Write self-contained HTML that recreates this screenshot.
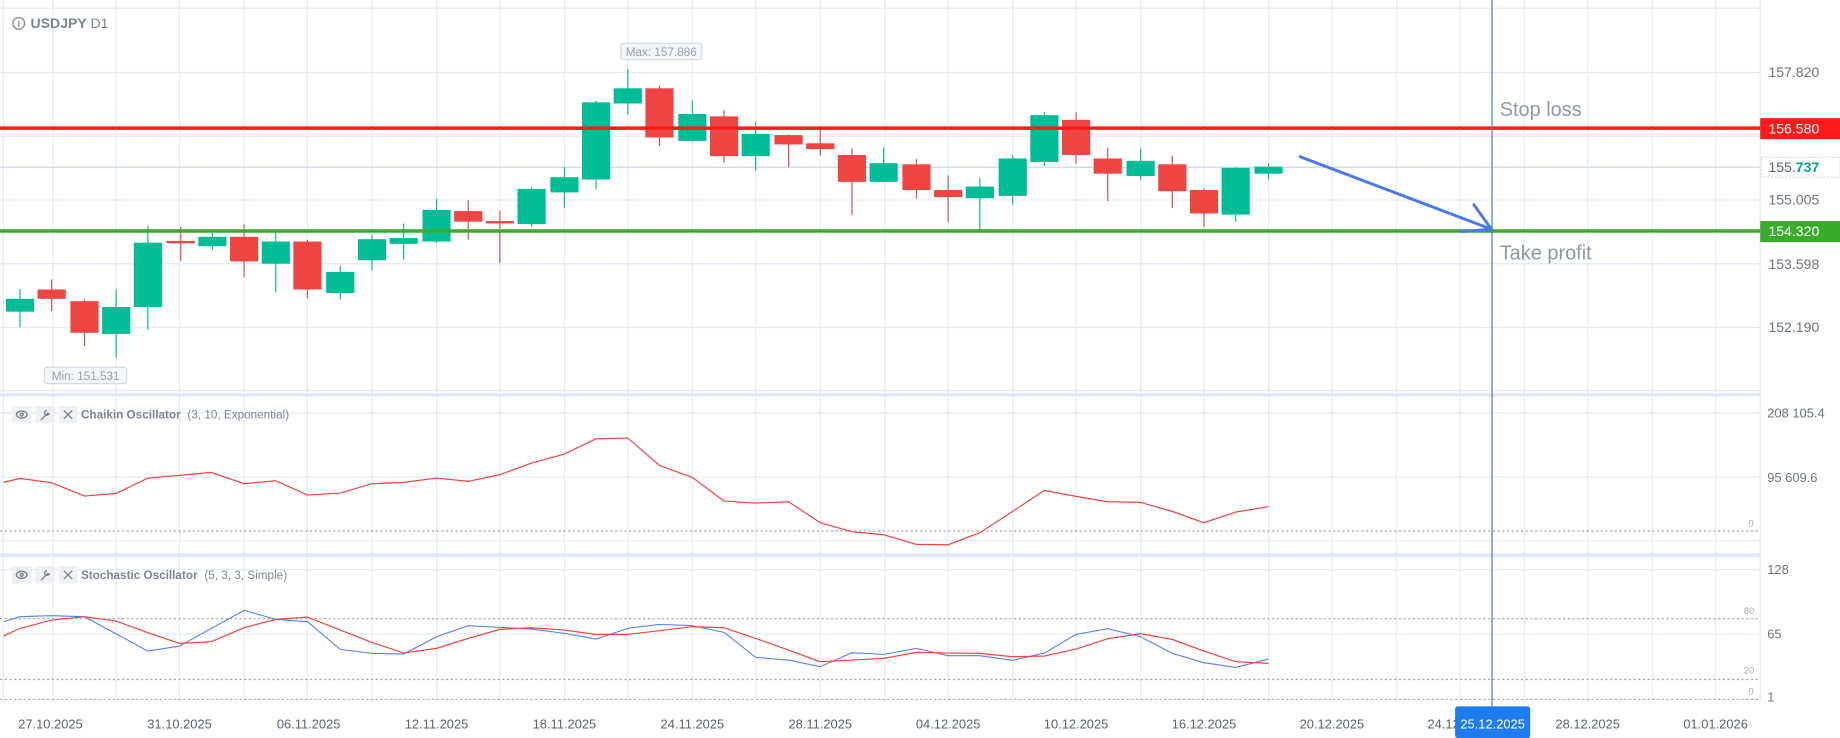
<!DOCTYPE html>
<html><head><meta charset="utf-8"><style>
html,body{margin:0;padding:0;background:#fff;width:1840px;height:738px;overflow:hidden}
svg{display:block}
text{font-family:"Liberation Sans",sans-serif}
</style></head><body>
<svg width="1840" height="738" viewBox="0 0 1568 631" preserveAspectRatio="none" xmlns="http://www.w3.org/2000/svg">
<rect width="1568" height="631" fill="#fff"/>
<g stroke="#e3e9f6" stroke-width="1">
<!-- vertical grid -->
<path d="M45 0V600M99 0V600M153 0V600M208 0V600M262 0V600M317 0V600M372 0V600M426 0V600M481 0V600M535 0V600M590 0V600M644 0V600M699 0V600M754 0V600M808 0V600M863 0V600M917 0V600M972 0V600M1026 0V600M1081 0V600M1135 0V600M1190 0V600M1244 0V600M1299 0V600M1353 0V600M1408 0V600M1462 0V600M3 0V600"/>
<!-- main horizontal -->
<path d="M0 7H1500M0 62H1500M0 116.5H1500M0 171H1500M0 225.5H1500M0 280H1500M0 334H1500"/>
<path d="M0 353H1500M0 408H1500M0 462H1500M0 487H1500M0 542H1500"/>
</g>
<line x1="0" y1="143" x2="1500" y2="143" stroke="#cfd6e4" stroke-width="1"/>
<line x1="1500" y1="0" x2="1500" y2="600" stroke="#e3e9f6"/>
<rect x="0" y="336" width="1500" height="3" fill="#e3e9f8"/>
<rect x="0" y="473" width="1500" height="3.5" fill="#e3e9f8"/>
<g stroke="#aaa" stroke-dasharray="2,2" stroke-width="1">
<path d="M0 454H1500M0 529H1500M0 581H1500M0 598H1500"/>
</g>
<!-- title -->
<circle cx="16" cy="20" r="5" fill="none" stroke="#8b93a1" stroke-width="1.2"/>
<line x1="16" y1="18" x2="16" y2="23" stroke="#8b93a1" stroke-width="1.2"/>
<text x="26" y="24" font-size="12" font-weight="bold" fill="#7d8594">USDJPY <tspan font-weight="normal">D1</tspan></text>
<!-- candles -->
<g stroke-width="1">
<g fill="#00bd97" stroke="#00bd97">
<line x1="17" y1="247" x2="17" y2="280"/><rect x="5.5" y="256" width="23" height="10"/>
<line x1="99" y1="247" x2="99" y2="306"/><rect x="87.5" y="263" width="23" height="22"/>
<line x1="126" y1="193" x2="126" y2="282"/><rect x="114.5" y="208" width="23" height="54"/>
<line x1="181" y1="199" x2="181" y2="214"/><rect x="169.5" y="203" width="23" height="7"/>
<line x1="235" y1="199" x2="235" y2="250"/><rect x="223.5" y="207" width="23" height="18"/>
<line x1="290" y1="227" x2="290" y2="256"/><rect x="278.5" y="233" width="23" height="17"/>
<line x1="317" y1="201" x2="317" y2="231"/><rect x="305.5" y="205" width="23" height="17"/>
<line x1="344" y1="191" x2="344" y2="222"/><rect x="332.5" y="204" width="23" height="4"/>
<line x1="372" y1="170" x2="372" y2="208"/><rect x="360.5" y="180" width="23" height="26"/>
<line x1="453" y1="160" x2="453" y2="194"/><rect x="441.5" y="162" width="23" height="29"/>
<line x1="481" y1="143" x2="481" y2="178"/><rect x="469.5" y="152" width="23" height="12"/>
<line x1="508" y1="86" x2="508" y2="162"/><rect x="496.5" y="88" width="23" height="65"/>
<line x1="535" y1="59" x2="535" y2="98"/><rect x="523.5" y="76" width="23" height="12"/>
<line x1="590" y1="86" x2="590" y2="121"/><rect x="578.5" y="98" width="23" height="22"/>
<line x1="644" y1="104" x2="644" y2="146"/><rect x="632.5" y="115" width="23" height="18"/>
<line x1="753" y1="126" x2="753" y2="155"/><rect x="741.5" y="140" width="23" height="15"/>
<line x1="835" y1="152" x2="835" y2="197"/><rect x="823.5" y="160" width="23" height="9"/>
<line x1="863" y1="133" x2="863" y2="175"/><rect x="851.5" y="136" width="23" height="31"/>
<line x1="890" y1="96" x2="890" y2="142"/><rect x="878.5" y="99" width="23" height="39"/>
<line x1="972" y1="127" x2="972" y2="154"/><rect x="960.5" y="138" width="23" height="12"/>
<line x1="1053" y1="143" x2="1053" y2="190"/><rect x="1041.5" y="144" width="23" height="39"/>
<line x1="1081" y1="140" x2="1081" y2="154"/><rect x="1069.5" y="143" width="23" height="5"/>
</g>
<g fill="#ef4444" stroke="#ef4444">
<line x1="44" y1="239" x2="44" y2="266"/><rect x="32.5" y="248" width="23" height="7"/>
<line x1="72" y1="256" x2="72" y2="296"/><rect x="60.5" y="258" width="23" height="26"/>
<line x1="154" y1="194" x2="154" y2="223"/><rect x="142.5" y="206.5" width="23" height="1"/>
<line x1="208" y1="192" x2="208" y2="237"/><rect x="196.5" y="203" width="23" height="20"/>
<line x1="262" y1="205" x2="262" y2="255"/><rect x="250.5" y="207" width="23" height="40"/>
<line x1="399" y1="171" x2="399" y2="205"/><rect x="387.5" y="181" width="23" height="8"/>
<line x1="426" y1="180" x2="426" y2="225"/><rect x="414.5" y="189.5" width="23" height="1"/>
<line x1="562" y1="73" x2="562" y2="125"/><rect x="550.5" y="76" width="23" height="41"/>
<line x1="617" y1="94" x2="617" y2="139"/><rect x="605.5" y="100" width="23" height="33"/>
<line x1="672" y1="115" x2="672" y2="143"/><rect x="660.5" y="116" width="23" height="7"/>
<line x1="699" y1="109" x2="699" y2="133"/><rect x="687.5" y="123" width="23" height="4"/>
<line x1="726" y1="127" x2="726" y2="184"/><rect x="714.5" y="133" width="23" height="22"/>
<line x1="781" y1="136" x2="781" y2="170"/><rect x="769.5" y="141" width="23" height="21"/>
<line x1="808" y1="150" x2="808" y2="190"/><rect x="796.5" y="163" width="23" height="5"/>
<line x1="917" y1="96" x2="917" y2="140"/><rect x="905.5" y="103" width="23" height="29"/>
<line x1="944" y1="126" x2="944" y2="172"/><rect x="932.5" y="136" width="23" height="12"/>
<line x1="999" y1="133" x2="999" y2="178"/><rect x="987.5" y="141" width="23" height="22"/>
<line x1="1026" y1="161" x2="1026" y2="194"/><rect x="1014.5" y="163" width="23" height="19"/>
</g>
</g>
<!-- max/min labels -->
<rect x="529" y="37" width="69" height="14" rx="2" fill="#f3f5f9" stroke="#d5dae3"/>
<text x="563.5" y="48" font-size="10" fill="#9aa1ad" text-anchor="middle">Max: 157.886</text>
<rect x="38" y="314" width="70" height="14" rx="2" fill="#f3f5f9" stroke="#d5dae3"/>
<text x="73" y="325" font-size="10" fill="#9aa1ad" text-anchor="middle">Min: 151.531</text>
<!-- SL/TP lines -->
<line x1="0" y1="109.5" x2="1500" y2="109.5" stroke="#ff1a1a" stroke-width="3"/>
<line x1="0" y1="197.5" x2="1500" y2="197.5" stroke="#3aab2a" stroke-width="3"/>
<text x="1278" y="99" font-size="17" fill="#9097a3">Stop loss</text>
<text x="1278" y="222" font-size="17" fill="#9097a3">Take profit</text>
<!-- vertical blue line -->
<line x1="1271.5" y1="0" x2="1271.5" y2="604" stroke="#3b7ddd" stroke-width="1"/>
<!-- arrow -->
<g stroke="#4a78ee" stroke-width="2.5" fill="none" stroke-linecap="round">
<line x1="1108" y1="134" x2="1271" y2="196"/>
<line x1="1271" y1="196" x2="1256" y2="175"/>
<line x1="1271" y1="196" x2="1245" y2="198"/>
</g>
<!-- price axis -->
<g font-size="12" fill="#6b7280">
<text x="1507" y="66">157.820</text>
<text x="1507" y="175">155.005</text>
<text x="1507" y="230">153.598</text>
<text x="1507" y="284">152.190</text>
</g>
<rect x="1500" y="101" width="68" height="18" fill="#ff1a1a"/>
<text x="1507" y="114" font-size="12" fill="#fff">156.580</text>
<rect x="1501" y="134.5" width="67" height="17" fill="#fff" stroke="#d5dae3" stroke-dasharray="2,1"/>
<text x="1507" y="147" font-size="12" fill="#5b6270">155.<tspan fill="#00a887" font-weight="bold">737</tspan></text>
<rect x="1500" y="189" width="68" height="18" fill="#3aab2a"/>
<text x="1507" y="202" font-size="12" fill="#fff">154.320</text>
<!-- indicator headers -->
<g fill="#eef0f4">
<rect x="10" y="347" width="17" height="15" rx="2"/><rect x="30" y="347" width="17" height="15" rx="2"/><rect x="50" y="347" width="16" height="15" rx="2"/>
<rect x="10" y="484" width="17" height="15" rx="2"/><rect x="30" y="484" width="17" height="15" rx="2"/><rect x="50" y="484" width="16" height="15" rx="2"/>
</g>
<g stroke="#7d8594" stroke-width="1.2" fill="none">
<ellipse cx="18.5" cy="354.5" rx="4.5" ry="3"/><circle cx="18.5" cy="354.5" r="1.2"/>
<path d="M35 359l6-6M40 351a2 2 0 1 0 2 2"/>
<path d="M54.5 351l7 7M61.5 351l-7 7"/>
<ellipse cx="18.5" cy="491.5" rx="4.5" ry="3"/><circle cx="18.5" cy="491.5" r="1.2"/>
<path d="M35 496l6-6M40 488a2 2 0 1 0 2 2"/>
<path d="M54.5 488l7 7M61.5 488l-7 7"/>
</g>
<text x="69" y="358" font-size="10" fill="#7d8594"><tspan font-weight="bold">Chaikin Oscillator</tspan>  <tspan dx="3">(3, 10, Exponential)</tspan></text>
<text x="69" y="495" font-size="10" fill="#7d8594"><tspan font-weight="bold">Stochastic Oscillator</tspan>  <tspan dx="3">(5, 3, 3, Simple)</tspan></text>
<!-- indicator axes -->
<g font-size="11" fill="#6b7280">
<text x="1506" y="357">208 105.4</text>
<text x="1506" y="412">95 609.6</text>
<text x="1506" y="491">128</text>
<text x="1506" y="546">65</text>
<text x="1506" y="600">1</text>
</g>
<g font-size="8" fill="#aaa">
<text x="1490" y="450">0</text>
<text x="1486" y="525">80</text>
<text x="1486" y="576">20</text>
<text x="1490" y="594">0</text>
</g>
<!-- chaikin line -->
<g transform="translate(0,333.5) scale(1,0.285)">
<polyline fill="none" stroke="#ef4444" stroke-width="1.2" vector-effect="non-scaling-stroke" points="3,277 17,265 44,278 72,318 99,310 126,264 153,256 180,247 208,281 235,272 262,315 290,309 317,281 344,277 372,264 399,274 426,254 453,219 481,192 508,146 535,144 562,226 590,262 617,333 644,339 672,335 699,398 726,425 753,434 781,463 808,464 835,428 863,364 890,301 917,319 944,335 972,337 999,364 1026,398 1053,366 1081,350"/>
<polyline fill="none" stroke="#5b7ff0" stroke-width="1.1" vector-effect="non-scaling-stroke" points="3,695 17,680 44,677 72,680 126,783 153,768 208,661 235,688 262,695 290,778 317,790 344,792 372,740 399,707 426,712 453,717 481,730 508,747 535,715 562,703 590,707 617,727 644,802 672,810 699,830 726,788 753,793 781,775 808,797 835,797 863,811 890,789 917,733 944,716 972,740 999,790 1026,818 1053,832 1081,807"/>
<polyline fill="none" stroke="#ef4444" stroke-width="1.2" vector-effect="non-scaling-stroke" points="3,738 17,715 44,690 72,680 99,693 126,728 153,760 180,755 208,713 235,688 262,681 290,720 317,757 344,789 372,775 399,745 426,718 453,713 481,720 508,733 535,733 562,722 590,710 617,713 644,745 672,780 699,815 726,810 753,805 781,787 808,789 835,790 863,800 890,798 917,777 944,746 972,731 999,748 1026,783 1053,815 1081,820"/>
</g>
<!-- date axis -->
<g font-size="11" fill="#5b6270" text-anchor="middle">
<text x="43" y="623">27.10.2025</text>
<text x="153" y="623">31.10.2025</text>
<text x="263" y="623">06.11.2025</text>
<text x="372" y="623">12.11.2025</text>
<text x="481" y="623">18.11.2025</text>
<text x="590" y="623">24.11.2025</text>
<text x="699" y="623">28.11.2025</text>
<text x="808" y="623">04.12.2025</text>
<text x="917" y="623">10.12.2025</text>
<text x="1026" y="623">16.12.2025</text>
<text x="1135" y="623">20.12.2025</text>
<text x="1244" y="623">24.12.2025</text>
<text x="1353" y="623">28.12.2025</text>
<text x="1462" y="623">01.01.2026</text>
</g>
<rect x="1240" y="604" width="64" height="27" rx="2" fill="#1e7bf0"/>
<text x="1272" y="623" font-size="11" fill="#fff" text-anchor="middle">25.12.2025</text>
</svg>
</body></html>
